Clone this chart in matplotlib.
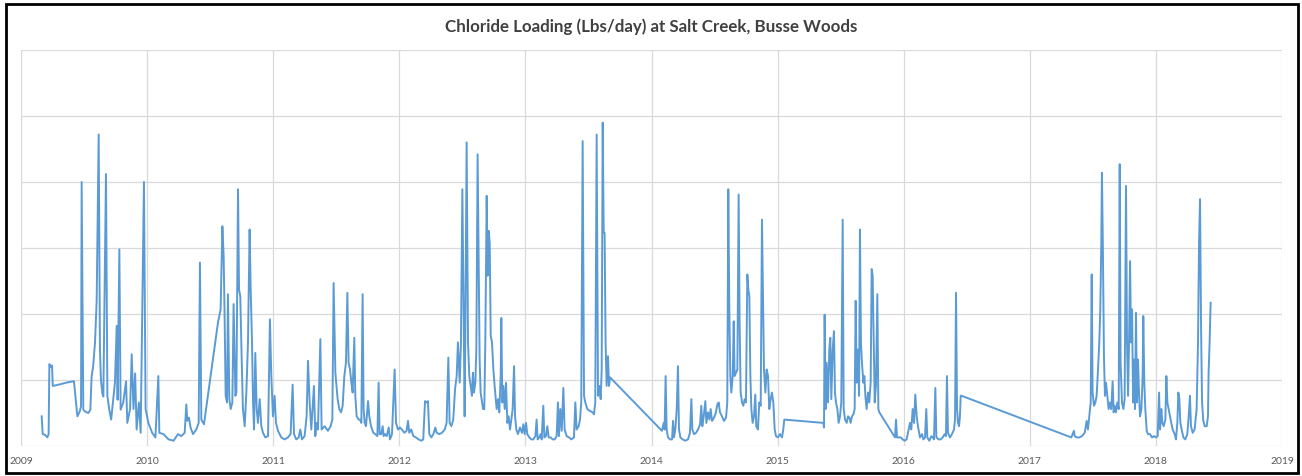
import numpy as np
import matplotlib.pyplot as plt
from matplotlib.patches import Rectangle

# (decimal year, chloride load in lbs/day)
load_2009 = [(2009.164, 4500), (2009.172, 1800), (2009.190, 1700), (2009.209, 1300), (2009.219, 1800),
             (2009.225, 12400), (2009.235, 12000), (2009.246, 12200), (2009.252, 9100), (2009.300, 9300),
             (2009.360, 9600), (2009.415, 9800), (2009.420, 9800), (2009.447, 4500), (2009.465, 5200),
             (2009.476, 6000), (2009.481, 40000), (2009.494, 5500), (2009.510, 5200), (2009.534, 5000),
             (2009.550, 5500), (2009.560, 10600), (2009.572, 12000), (2009.587, 15700), (2009.600, 22000),
             (2009.616, 47200), (2009.626, 14600), (2009.634, 10000), (2009.645, 8000), (2009.653, 7500),
             (2009.674, 41200), (2009.685, 7600), (2009.700, 5500), (2009.715, 4000), (2009.745, 9600),
             (2009.759, 18200), (2009.766, 7000), (2009.780, 29800), (2009.790, 5500), (2009.811, 6600),
             (2009.833, 9800), (2009.843, 3500), (2009.865, 5600), (2009.878, 13900), (2009.892, 5600),
             (2009.905, 11000), (2009.917, 2500), (2009.935, 6600), (2009.949, 2000), (2009.975, 40000),
             (2009.988, 5600)]

load_2010 = [(2010.010, 3500), (2010.040, 2000), (2010.066, 1300), (2010.089, 10600), (2010.097, 2000),
             (2010.130, 1800), (2010.170, 1000), (2010.210, 800), (2010.245, 1800), (2010.271, 1500),
             (2010.298, 2000), (2010.311, 6300), (2010.319, 3800), (2010.332, 4300), (2010.345, 2800),
             (2010.364, 1800), (2010.390, 2500), (2010.409, 3500), (2010.419, 27800), (2010.430, 4000),
             (2010.451, 3300), (2010.562, 18700), (2010.583, 20700), (2010.597, 33300), (2010.607, 28800),
             (2010.615, 19200), (2010.623, 7600), (2010.634, 6600), (2010.641, 23000), (2010.652, 7100),
             (2010.663, 5600), (2010.676, 6600), (2010.686, 21500), (2010.700, 7600), (2010.708, 8100),
             (2010.721, 38900), (2010.729, 23700), (2010.739, 22700), (2010.747, 15700), (2010.760, 5600),
             (2010.774, 3000), (2010.787, 8100), (2010.800, 15700), (2010.813, 32800), (2010.821, 24200),
             (2010.832, 15700), (2010.840, 6600), (2010.848, 2500), (2010.858, 14100), (2010.869, 5600),
             (2010.879, 3500), (2010.893, 7100), (2010.906, 3000), (2010.919, 2000), (2010.937, 1300),
             (2010.959, 1500), (2010.974, 19200), (2010.985, 10600), (2010.998, 4500)]

load_2011 = [(2011.011, 7600), (2011.022, 3500), (2011.038, 2300), (2011.064, 1300), (2011.091, 1000),
             (2011.117, 1300), (2011.138, 1800), (2011.154, 9300), (2011.165, 1800), (2011.183, 1000),
             (2011.202, 1300), (2011.215, 2500), (2011.228, 1000), (2011.249, 1500), (2011.265, 4500),
             (2011.276, 12900), (2011.289, 6600), (2011.302, 2500), (2011.323, 9100), (2011.334, 1500),
             (2011.344, 3500), (2011.355, 2500), (2011.374, 16200), (2011.384, 2500), (2011.408, 3000),
             (2011.434, 2300), (2011.455, 3000), (2011.469, 4000), (2011.479, 24700), (2011.493, 11100),
             (2011.511, 7100), (2011.524, 5600), (2011.538, 5100), (2011.551, 6100), (2011.564, 10600),
             (2011.577, 12600), (2011.588, 23200), (2011.598, 12600), (2011.609, 11600), (2011.620, 9600),
             (2011.630, 8100), (2011.643, 16400), (2011.651, 7600), (2011.662, 4500), (2011.678, 4000),
             (2011.688, 4000), (2011.699, 3500), (2011.709, 23000), (2011.717, 5600), (2011.725, 3500),
             (2011.736, 3000), (2011.752, 6800), (2011.762, 4500), (2011.776, 3000), (2011.794, 2000),
             (2011.810, 1800), (2011.826, 1500), (2011.836, 9600), (2011.844, 1800), (2011.857, 1800),
             (2011.868, 3000), (2011.876, 1500), (2011.887, 1800), (2011.900, 1500), (2011.916, 2800),
             (2011.926, 1000), (2011.942, 1800), (2011.963, 11600), (2011.974, 3500), (2011.990, 2500)]

load_2012 = [(2012.005, 2800), (2012.021, 2500), (2012.040, 2000), (2012.058, 2300), (2012.069, 3800),
             (2012.079, 2000), (2012.095, 2500), (2012.111, 1500), (2012.132, 1300), (2012.153, 1000),
             (2012.175, 800), (2012.190, 1000), (2012.204, 6800), (2012.217, 6600), (2012.227, 6800),
             (2012.238, 1800), (2012.254, 1300), (2012.270, 1800), (2012.286, 2800), (2012.296, 2000),
             (2012.317, 1800), (2012.338, 2000), (2012.360, 2500), (2012.375, 3500), (2012.389, 13400),
             (2012.399, 3500), (2012.413, 3000), (2012.428, 4000), (2012.442, 8600), (2012.455, 10600),
             (2012.465, 15700), (2012.479, 9600), (2012.489, 15700), (2012.500, 38900), (2012.510, 20700),
             (2012.518, 4500), (2012.523, 15700), (2012.534, 46000), (2012.545, 15700), (2012.555, 10600),
             (2012.566, 9100), (2012.576, 7600), (2012.584, 11100), (2012.592, 8100), (2012.603, 9600),
             (2012.611, 14600), (2012.621, 44200), (2012.629, 28300), (2012.637, 13100), (2012.645, 8100),
             (2012.656, 6600), (2012.664, 5600), (2012.674, 5600), (2012.682, 15700), (2012.693, 37900),
             (2012.701, 25800), (2012.709, 32600), (2012.717, 30800), (2012.725, 16700), (2012.735, 15700),
             (2012.746, 11600), (2012.756, 9100), (2012.772, 5600), (2012.783, 7100), (2012.793, 5100),
             (2012.804, 10600), (2012.809, 19400), (2012.817, 6600), (2012.825, 9100), (2012.836, 5600),
             (2012.846, 9600), (2012.857, 3500), (2012.867, 4500), (2012.878, 2500), (2012.888, 4000),
             (2012.899, 5600), (2012.910, 12100), (2012.918, 4500), (2012.928, 2500), (2012.941, 1800),
             (2012.957, 2800), (2012.973, 2000), (2012.984, 3300), (2012.994, 1800)]

load_2013 = [(2013.005, 3500), (2013.015, 1800), (2013.031, 1300), (2013.047, 1000), (2013.063, 1000),
             (2013.079, 1500), (2013.089, 4000), (2013.097, 1000), (2013.110, 1300), (2013.121, 1800),
             (2013.129, 1000), (2013.142, 6100), (2013.150, 1300), (2013.163, 1500), (2013.174, 3000),
             (2013.184, 1300), (2013.200, 1300), (2013.216, 1000), (2013.232, 1000), (2013.248, 1500),
             (2013.258, 6600), (2013.266, 1500), (2013.277, 5600), (2013.288, 2300), (2013.301, 8800),
             (2013.311, 2500), (2013.327, 1500), (2013.346, 1300), (2013.364, 1000), (2013.385, 1300),
             (2013.396, 6600), (2013.406, 2500), (2013.422, 3000), (2013.433, 4000), (2013.443, 6600),
             (2013.454, 46200), (2013.465, 7600), (2013.475, 6600), (2013.491, 5600), (2013.512, 5300),
             (2013.533, 5100), (2013.544, 4800), (2013.554, 6600), (2013.565, 47200), (2013.576, 7600),
             (2013.586, 9100), (2013.597, 7100), (2013.605, 11600), (2013.613, 49000), (2013.621, 32300),
             (2013.628, 32300), (2013.636, 15700), (2013.644, 9100), (2013.655, 13600), (2013.663, 9100),
             (2013.671, 10400)]

load_2014 = [(2014.083, 2300), (2014.097, 3500), (2014.104, 2500), (2014.112, 10600), (2014.120, 2500),
             (2014.131, 1300), (2014.147, 1000), (2014.163, 1000), (2014.171, 3800), (2014.178, 1300),
             (2014.189, 2500), (2014.200, 5600), (2014.210, 12100), (2014.218, 2500), (2014.229, 1300),
             (2014.247, 1000), (2014.268, 800), (2014.289, 1000), (2014.305, 2000), (2014.316, 7100),
             (2014.324, 2500), (2014.337, 1800), (2014.353, 2000), (2014.369, 2500), (2014.385, 3300),
             (2014.395, 6100), (2014.403, 3000), (2014.414, 4500), (2014.427, 6800), (2014.435, 3500),
             (2014.448, 5100), (2014.459, 4000), (2014.469, 5600), (2014.480, 3800), (2014.496, 4300),
             (2014.511, 5100), (2014.522, 6300), (2014.533, 6600), (2014.543, 5100), (2014.559, 4500),
             (2014.575, 3800), (2014.591, 4300), (2014.601, 6600), (2014.609, 38900), (2014.617, 20700),
             (2014.625, 10600), (2014.633, 8100), (2014.644, 10600), (2014.652, 18900), (2014.659, 10600),
             (2014.670, 11100), (2014.681, 11600), (2014.691, 38100), (2014.699, 18200), (2014.707, 8100),
             (2014.718, 6600), (2014.728, 6100), (2014.739, 7100), (2014.749, 6600), (2014.760, 26000),
             (2014.768, 23700), (2014.776, 22700), (2014.784, 10600), (2014.792, 5600), (2014.802, 3500),
             (2014.813, 4500), (2014.823, 7800), (2014.831, 3000), (2014.844, 2500), (2014.855, 6600),
             (2014.866, 6100), (2014.876, 34300), (2014.884, 23200), (2014.892, 11600), (2014.903, 8100),
             (2014.913, 11600), (2014.924, 10600), (2014.934, 5600), (2014.945, 7100), (2014.955, 8100),
             (2014.966, 6600), (2014.977, 2500), (2014.987, 1500)]

load_2015 = [(2015.003, 1300), (2015.019, 1800), (2015.035, 1300), (2015.045, 2500), (2015.053, 4000),
             (2015.363, 3500), (2015.368, 2800), (2015.373, 19900), (2015.381, 5600), (2015.389, 12600),
             (2015.400, 6600), (2015.410, 14600), (2015.418, 16400), (2015.426, 7100), (2015.437, 14600),
             (2015.447, 17400), (2015.455, 8100), (2015.463, 6600), (2015.474, 5600), (2015.484, 3500),
             (2015.495, 4500), (2015.505, 6600), (2015.516, 34300), (2015.524, 5600), (2015.535, 4000),
             (2015.548, 3500), (2015.558, 4500), (2015.569, 4300), (2015.579, 3500), (2015.590, 4500),
             (2015.601, 4800), (2015.611, 5600), (2015.619, 22000), (2015.627, 9600), (2015.638, 14600),
             (2015.646, 7600), (2015.653, 32800), (2015.661, 15700), (2015.669, 12600), (2015.680, 9600),
             (2015.688, 10600), (2015.696, 7600), (2015.706, 5600), (2015.717, 8100), (2015.727, 6600),
             (2015.738, 9600), (2015.746, 26800), (2015.754, 25800), (2015.762, 15700), (2015.770, 6600),
             (2015.780, 9100), (2015.791, 23000), (2015.799, 5600), (2015.807, 5100), (2015.931, 1300),
             (2015.939, 4000), (2015.947, 1300), (2015.960, 1300), (2015.976, 1300), (2015.992, 1000)]

load_2016 = [(2016.008, 800), (2016.023, 1000), (2016.039, 2500), (2016.050, 3500), (2016.060, 2500),
             (2016.071, 5600), (2016.082, 3500), (2016.092, 7800), (2016.103, 4500), (2016.113, 3000),
             (2016.129, 1300), (2016.145, 1800), (2016.156, 1000), (2016.169, 1300), (2016.179, 5600),
             (2016.187, 1300), (2016.203, 800), (2016.219, 1500), (2016.230, 1300), (2016.240, 1000),
             (2016.251, 8800), (2016.259, 1300), (2016.277, 1000), (2016.293, 1000), (2016.309, 1300),
             (2016.325, 1800), (2016.335, 1500), (2016.343, 10600), (2016.351, 2000), (2016.367, 1300),
             (2016.383, 1800), (2016.399, 2500), (2016.407, 4000), (2016.415, 23200), (2016.423, 5600),
             (2016.431, 3500), (2016.439, 3000), (2016.446, 4500), (2016.452, 7600), (2016.460, 7600)]

load_2017 = [(2017.329, 1300), (2017.350, 2300), (2017.356, 1500), (2017.372, 1300), (2017.393, 1300),
             (2017.414, 1500), (2017.435, 2000), (2017.451, 3800), (2017.461, 2500), (2017.472, 4500),
             (2017.483, 6600), (2017.491, 26000), (2017.498, 8100), (2017.509, 6100), (2017.520, 6600),
             (2017.530, 7600), (2017.541, 11600), (2017.551, 15700), (2017.559, 20700), (2017.567, 30800),
             (2017.572, 41400), (2017.580, 29300), (2017.588, 13600), (2017.596, 7600), (2017.604, 9600),
             (2017.615, 7600), (2017.625, 5600), (2017.636, 6600), (2017.646, 5600), (2017.657, 9800),
             (2017.665, 5100), (2017.673, 6100), (2017.683, 5100), (2017.694, 6600), (2017.705, 5600),
             (2017.713, 42700), (2017.720, 12600), (2017.731, 6600), (2017.742, 5600), (2017.752, 7100),
             (2017.763, 39400), (2017.771, 15700), (2017.779, 7600), (2017.787, 15700), (2017.795, 28000),
             (2017.803, 15700), (2017.811, 20700), (2017.819, 6600), (2017.826, 13100), (2017.834, 5600),
             (2017.842, 20200), (2017.850, 6600), (2017.858, 13100), (2017.866, 8100), (2017.874, 4500),
             (2017.885, 5600), (2017.895, 10600), (2017.900, 19700), (2017.908, 9600), (2017.916, 5600),
             (2017.927, 2300), (2017.937, 1800), (2017.953, 1800), (2017.969, 1300), (2017.985, 1500)]

load_2018 = [(2018.001, 1300), (2018.014, 1500), (2018.025, 8100), (2018.033, 2500), (2018.043, 5600),
             (2018.051, 3500), (2018.062, 3000), (2018.075, 4000), (2018.083, 10600), (2018.091, 6600),
             (2018.101, 5600), (2018.112, 4500), (2018.122, 3500), (2018.133, 2500), (2018.149, 1800),
             (2018.159, 1000), (2018.170, 3500), (2018.178, 8100), (2018.186, 7100), (2018.194, 3500),
             (2018.204, 2500), (2018.218, 1300), (2018.233, 1000), (2018.249, 1800), (2018.260, 4500),
             (2018.270, 7600), (2018.278, 3000), (2018.292, 2000), (2018.307, 2500), (2018.323, 5600),
             (2018.334, 15700), (2018.342, 30800), (2018.350, 37400), (2018.358, 18200), (2018.366, 6600),
             (2018.376, 3800), (2018.387, 3000), (2018.403, 3000), (2018.413, 4500), (2018.418, 11100),
             (2018.426, 15700), (2018.434, 21700)]

years = list(range(2009, 2020))
y_grid = list(range(0, 60001, 10000))
title = 'Chloride Loading (Lbs/day) at Salt Creek, Busse Woods'

segments = [load_2009, load_2010, load_2011, load_2012, load_2013,
            load_2014, load_2015, load_2016, load_2017, load_2018]
pairs = [p for seg in segments for p in seg]
dates = np.array([p[0] for p in pairs])
loads = np.array([p[1] for p in pairs])

W, H = 1302, 477
fig = plt.figure(figsize=(W / 100, H / 100), dpi=100)
ax = fig.add_axes([21 / W, 1 - 447 / H, (1282 - 21) / W, (447 - 51) / H])

ax.plot(dates, loads, color='#5b9bd5', linewidth=1.4)

ax.set_xlim(years[0], years[-1])
ax.set_ylim(y_grid[0], y_grid[-1])
ax.set_xticks(years)
ax.set_xticklabels([str(y) for y in years], fontsize=7.5, color='#595959', family='Lato')
ax.set_yticks(y_grid)
ax.tick_params(axis='y', length=0, labelleft=False)
ax.tick_params(axis='x', length=0, pad=7)
ax.grid(True, color='#d9d9d9', linewidth=0.9)
ax.set_axisbelow(True)
for s in ax.spines.values():
    s.set_visible(False)

fig.text(0.5, 1 - 27 / H, title, ha='center', va='center', fontsize=12.2,
         fontweight='bold', color='#404040', family='Lato')

# black frame around the whole chart
fig.patches.append(Rectangle((6 / W, 3 / H), 1292 / W, 469 / H, transform=fig.transFigure,
                             fill=False, edgecolor='black', linewidth=2))

fig.savefig('out.png', dpi=100)
